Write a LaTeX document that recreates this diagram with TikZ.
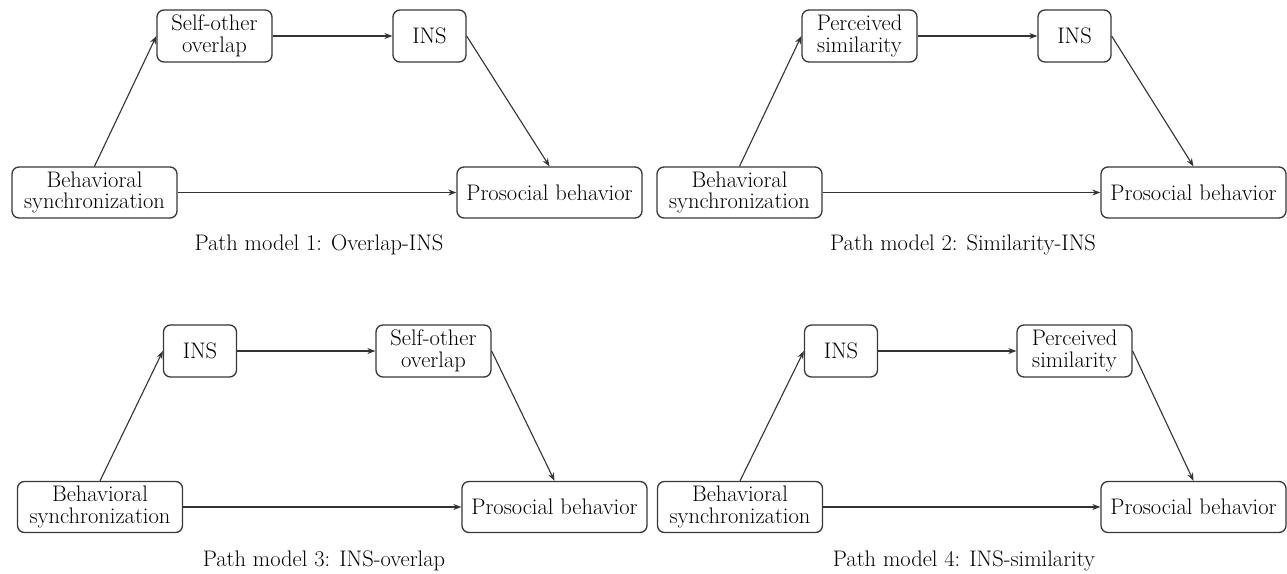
\documentclass[tikz,border=0pt]{standalone}
\usetikzlibrary{arrows.meta}
\tikzset{
  box/.style={draw=black!78, line width=1.3pt, rounded corners=7pt, align=center,
    inner sep=0pt, font=\fontsize{22.5}{21.5}\selectfont},
  captxt/.style={font=\fontsize{22.5}{22}\selectfont, inner sep=0pt},
  arr/.style={-{Stealth[length=8pt,width=6pt]}, line width=1.1pt, draw=black!80},
  wide/.style={minimum width=165pt, minimum height=51pt},
  probox/.style={minimum width=185pt, minimum height=51pt},
  midbox/.style={minimum width=115pt, minimum height=52pt},
  insbox/.style={minimum width=73pt, minimum height=52pt}
}
\begin{document}
\begin{tikzpicture}[x=1pt,y=-1pt]
\useasboundingbox[fill=white] (0,0) rectangle (1287,573);

% Panel 1
\node[box,midbox] (m1) at (214.5,36) {Self-other\\overlap};
\node[box,insbox] (i1) at (429.5,36) {INS};
\node[box,wide] (b1) at (94.5,192.5) {Behavioral\\synchronization};
\node[box,probox] (p1) at (549.5,192.5) {Prosocial behavior};
\node[captxt] (c1) at (319,245) {Path model 1: Overlap-INS};
\draw[arr] (b1.north) -- (m1.west);
\draw[arr] (m1.east) -- (i1.west);
\draw[arr] (i1.east) -- (p1.north);
\draw[arr] (b1.east) -- (p1.west);

% Panel 2
\node[box,midbox] (m2) at (859.5,36) {Perceived\\similarity};
\node[box,insbox] (i2) at (1074.5,36) {INS};
\node[box,wide] (b2) at (739.5,192.5) {Behavioral\\synchronization};
\node[box,probox] (p2) at (1193.5,192.5) {Prosocial behavior};
\node[captxt] (c2) at (963,245) {Path model 2: Similarity-INS};
\draw[arr] (b2.north) -- (m2.west);
\draw[arr] (m2.east) -- (i2.west);
\draw[arr] (i2.east) -- (p2.north);
\draw[arr] (b2.east) -- (p2.west);

% Panel 3
\node[box,insbox] (i3) at (200,351) {INS};
\node[box,midbox] (m3) at (433.5,351) {Self-other\\overlap};
\node[box,wide] (b3) at (100,507) {Behavioral\\synchronization};
\node[box,probox] (p3) at (554.5,507) {Prosocial behavior};
\node[captxt] (c3) at (324,561) {Path model 3: INS-overlap};
\draw[arr] (b3.north) -- (i3.west);
\draw[arr] (i3.east) -- (m3.west);
\draw[arr] (m3.east) -- (p3.north);
\draw[arr] (b3.east) -- (p3.west);

% Panel 4
\node[box,insbox] (i4) at (841,351) {INS};
\node[box,midbox] (m4) at (1074.5,351) {Perceived\\similarity};
\node[box,wide] (b4) at (740,507) {Behavioral\\synchronization};
\node[box,probox] (p4) at (1193.5,507) {Prosocial behavior};
\node[captxt] (c4) at (964,561) {Path model 4: INS-similarity};
\draw[arr] (b4.north) -- (i4.west);
\draw[arr] (i4.east) -- (m4.west);
\draw[arr] (m4.east) -- (p4.north);
\draw[arr] (b4.east) -- (p4.west);
\end{tikzpicture}
\end{document}
